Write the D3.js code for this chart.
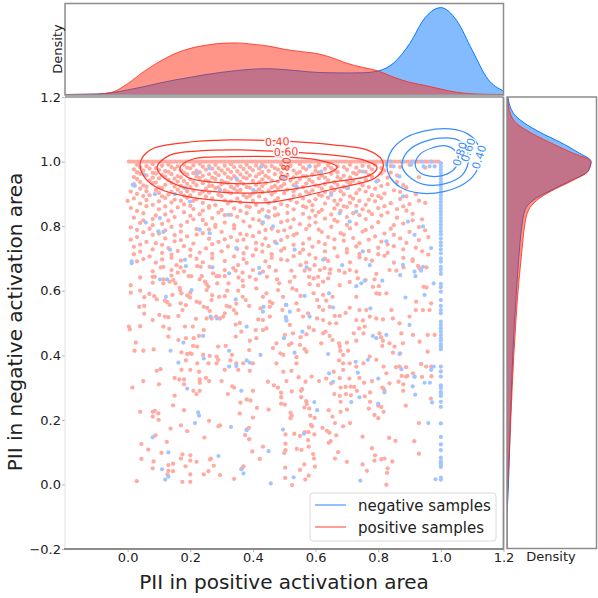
<!DOCTYPE html>
<html><head><meta charset="utf-8">
<script src="https://cdn.jsdelivr.net/npm/d3@7"></script>
<style>html,body{margin:0;padding:0;background:#fff;}svg{display:block;font-family:"DejaVu Sans",sans-serif;}</style>
</head><body><svg id="c" width="598" height="598"></svg>
<script>
// ---------------- DATA ----------------
const xTicks = [0, 0.2, 0.4, 0.6, 0.8, 1.0, 1.2];
const yTicks = [-0.2, 0, 0.2, 0.4, 0.6, 0.8, 1.0, 1.2];
const seriesNames = ["negative samples", "positive samples"];

// positive samples lying on y = 1.0
const positiveBandX = [0.004,0.012,0.021,0.03,0.038,0.047,0.055,0.064,0.072,0.081,0.09,0.098,0.107,0.115,0.124,0.133,0.141,0.15,0.158,0.167,0.176,0.184,0.193,0.201,0.21,0.219,0.227,0.236,0.244,0.253,0.262,0.27,0.279,0.287,0.296,0.305,0.313,0.322,0.33,0.339,0.348,0.356,0.365,0.373,0.382,0.391,0.399,0.408,0.416,0.425,0.434,0.442,0.451,0.459,0.468,0.477,0.485,0.494,0.502,0.511,0.52,0.528,0.537,0.545,0.554,0.563,0.571,0.58,0.588,0.597,0.606,0.614,0.623,0.631,0.64,0.649,0.657,0.666,0.674,0.683,0.692,0.70,0.709,0.717,0.726,0.735,0.743,0.752,0.76,0.769,0.778,0.786,0.795,0.803,0.812,0.821,0.829,0.838,0.846,0.855,0.864,0.872,0.881,0.889,0.898,0.907,0.915,0.924,0.932,0.941,0.95,0.958,0.967,0.975,0.984,0.993];

// positive samples, dense zone below y = 1.0
const positiveUpper = [
[0.03,0.99],[0.06,0.986],[0.08,0.992],[0.11,0.987],[0.13,0.991],[0.16,0.985],[0.18,0.99],[0.21,0.988],[0.23,0.993],[0.26,0.986],[0.28,0.99],[0.31,0.987],[0.33,0.992],[0.36,0.985],[0.38,0.99],[0.41,0.988],[0.43,0.991],[0.46,0.986],[0.49,0.99],[0.52,0.987],[0.55,0.992],[0.58,0.986],[0.61,0.99],[0.64,0.988],[0.67,0.985],[0.71,0.99],[0.75,0.987],[0.79,0.991],[0.84,0.986],[0.9,0.99],
[0.04,0.982],[0.09,0.98],[0.14,0.983],[0.19,0.981],[0.24,0.984],[0.29,0.98],[0.34,0.983],[0.39,0.981],[0.44,0.984],[0.47,0.98],[0.51,0.983],[0.56,0.981],[0.60,0.984],[0.65,0.98],[0.69,0.983],[0.73,0.981],[0.77,0.984],[0.81,0.98],[0.87,0.983],[0.95,0.981],
[0.02,0.976],[0.05,0.972],[0.07,0.978],[0.10,0.974],[0.12,0.97],[0.15,0.977],[0.17,0.973],[0.20,0.979],[0.22,0.971],[0.25,0.975],[0.27,0.978],[0.30,0.972],[0.32,0.976],[0.35,0.97],[0.37,0.977],[0.40,0.973],[0.42,0.978],[0.45,0.971],[0.48,0.975],[0.50,0.979],[0.53,0.972],[0.57,0.976],[0.60,0.971],[0.63,0.977],[0.66,0.973],[0.70,0.975],[0.74,0.97],[0.78,0.976],[0.82,0.972],
[0.03,0.967],[0.08,0.965],[0.13,0.968],[0.18,0.966],[0.23,0.967],[0.28,0.965],[0.33,0.968],[0.38,0.966],[0.43,0.967],[0.49,0.965],[0.55,0.968],[0.61,0.966],[0.67,0.967],[0.72,0.965],[0.76,0.968],[0.84,0.966],
[0.04,0.962],[0.06,0.957],[0.09,0.963],[0.11,0.958],[0.14,0.961],[0.16,0.955],[0.19,0.96],[0.21,0.964],[0.24,0.956],[0.26,0.961],[0.29,0.958],[0.31,0.963],[0.34,0.955],[0.36,0.96],[0.39,0.957],[0.42,0.962],[0.44,0.956],[0.47,0.961],[0.51,0.958],[0.54,0.963],[0.56,0.955],[0.59,0.96],[0.62,0.957],[0.65,0.962],[0.69,0.956],[0.73,0.961],[0.77,0.958],[0.81,0.963],[0.86,0.957],
[0.02,0.952],[0.08,0.95],[0.12,0.953],[0.17,0.951],[0.22,0.954],[0.27,0.95],[0.32,0.952],[0.37,0.951],[0.41,0.954],[0.45,0.95],[0.50,0.953],[0.53,0.951],[0.57,0.954],[0.63,0.95],[0.67,0.952],[0.71,0.951],[0.78,0.953],[0.83,0.95],[0.93,0.952],
[0.03,0.946],[0.07,0.941],[0.10,0.948],[0.13,0.943],[0.15,0.947],[0.18,0.94],[0.20,0.945],[0.23,0.949],[0.25,0.942],[0.28,0.946],[0.30,0.941],[0.33,0.947],[0.35,0.943],[0.38,0.948],[0.40,0.94],[0.43,0.945],[0.46,0.942],[0.49,0.947],[0.52,0.941],[0.55,0.946],[0.58,0.943],[0.61,0.948],[0.64,0.942],[0.68,0.946],[0.72,0.94],[0.76,0.945],[0.80,0.942],
[0.04,0.937],[0.09,0.935],[0.16,0.938],[0.21,0.936],[0.26,0.938],[0.31,0.935],[0.36,0.937],[0.42,0.936],[0.48,0.938],[0.54,0.935],[0.59,0.937],[0.66,0.936],[0.70,0.938],[0.74,0.935],[0.86,0.937],
[0.02,0.93],[0.05,0.926],[0.08,0.933],[0.12,0.928],[0.14,0.934],[0.17,0.925],[0.19,0.931],[0.22,0.927],[0.24,0.933],[0.27,0.925],[0.30,0.93],[0.32,0.934],[0.35,0.926],[0.37,0.931],[0.41,0.928],[0.44,0.933],[0.47,0.925],[0.50,0.93],[0.53,0.927],[0.57,0.932],[0.60,0.926],[0.63,0.931],[0.67,0.928],[0.71,0.933],[0.75,0.926],[0.83,0.93],[0.88,0.927],
[0.06,0.922],[0.10,0.92],[0.15,0.923],[0.20,0.921],[0.26,0.924],[0.29,0.92],[0.33,0.922],[0.38,0.921],[0.43,0.924],[0.46,0.92],[0.49,0.923],[0.56,0.921],[0.61,0.924],[0.65,0.92],[0.69,0.922],[0.77,0.921],[0.81,0.924],[0.89,0.92],
[0.04,0.916],[0.09,0.912],[0.11,0.918],[0.16,0.913],[0.18,0.919],[0.21,0.91],[0.25,0.915],[0.28,0.918],[0.31,0.911],[0.34,0.916],[0.36,0.912],[0.39,0.919],[0.42,0.914],[0.45,0.91],[0.48,0.917],[0.51,0.913],[0.54,0.918],[0.59,0.911],[0.62,0.916],[0.66,0.912],[0.70,0.918],[0.74,0.913],[0.79,0.916],[0.85,0.911],
[0.01,0.907],[0.06,0.908],[0.14,0.906],[0.19,0.908],[0.24,0.907],[0.32,0.906],[0.35,0.908],[0.41,0.907],[0.47,0.906],[0.53,0.908],[0.57,0.907],[0.63,0.906],[0.68,0.908],[0.76,0.907],[0.87,0.906],
[0.03,0.90],[0.07,0.896],[0.10,0.903],[0.13,0.898],[0.17,0.904],[0.20,0.895],[0.23,0.9],[0.26,0.904],[0.29,0.897],[0.33,0.902],[0.37,0.896],[0.40,0.901],[0.43,0.905],[0.46,0.898],[0.50,0.902],[0.55,0.896],[0.58,0.901],[0.61,0.897],[0.65,0.903],[0.69,0.898],[0.73,0.902],[0.78,0.896],[0.82,0.901],[0.92,0.899],
[0.05,0.893],[0.11,0.892],[0.18,0.894],[0.25,0.892],[0.30,0.893],[0.39,0.894],[0.42,0.892],[0.53,0.893],[0.62,0.894],[0.71,0.892],[0.80,0.893],[0.89,0.892],
[0.02,0.886],[0.06,0.881],[0.12,0.887],[0.15,0.882],[0.19,0.888],[0.22,0.883],[0.27,0.886],[0.31,0.88],[0.35,0.885],[0.38,0.889],[0.44,0.882],[0.48,0.887],[0.52,0.881],[0.56,0.886],[0.60,0.883],[0.64,0.888],[0.68,0.881],[0.72,0.885],[0.77,0.882],[0.81,0.887],[0.87,0.884],
[0.00,0.878],[0.10,0.877],[0.17,0.879],[0.21,0.878],[0.33,0.877],[0.40,0.879],[0.47,0.878],[0.58,0.877],[0.66,0.879],[0.74,0.878],[0.79,0.877],[0.93,0.879],
[0.04,0.87],[0.08,0.866],[0.14,0.873],[0.18,0.867],[0.24,0.872],[0.28,0.865],[0.32,0.87],[0.36,0.874],[0.41,0.866],[0.45,0.871],[0.49,0.868],[0.54,0.873],[0.59,0.865],[0.63,0.87],[0.67,0.867],[0.71,0.872],[0.76,0.866],[0.84,0.871],[0.90,0.868],[0.95,0.872],
[0.06,0.862],[0.12,0.861],[0.20,0.863],[0.26,0.862],[0.38,0.861],[0.51,0.863],[0.56,0.862],[0.69,0.861],[0.73,0.863],[0.82,0.862],[0.88,0.861],
[0.01,0.856],[0.10,0.852],[0.16,0.858],[0.21,0.853],[0.26,0.857],[0.30,0.85],[0.34,0.855],[0.39,0.859],[0.43,0.851],[0.47,0.856],[0.53,0.852],[0.57,0.858],[0.62,0.85],[0.66,0.855],[0.70,0.859],[0.75,0.852],[0.80,0.856],[0.86,0.853],
[0.03,0.847],[0.14,0.846],[0.24,0.848],[0.36,0.847],[0.45,0.846],[0.59,0.848],[0.68,0.847],[0.77,0.846],[0.89,0.848],
[0.05,0.84],[0.12,0.836],[0.18,0.843],[0.23,0.837],[0.29,0.842],[0.33,0.835],[0.38,0.84],[0.42,0.844],[0.48,0.836],[0.51,0.841],[0.56,0.838],[0.61,0.843],[0.65,0.836],[0.72,0.84],[0.78,0.837],[0.83,0.842],[0.91,0.838],
[0.09,0.833],[0.20,0.832],[0.31,0.834],[0.47,0.833],[0.60,0.832],[0.74,0.834],[0.81,0.833],
[0.02,0.826],[0.08,0.822],[0.15,0.828],[0.21,0.821],[0.27,0.825],[0.35,0.829],[0.40,0.822],[0.45,0.827],[0.53,0.821],[0.58,0.826],[0.63,0.823],[0.70,0.828],[0.76,0.822],[0.86,0.826],[0.94,0.821],
[0.05,0.818],[0.13,0.817],[0.24,0.819],[0.42,0.818],[0.51,0.817],[0.66,0.819],[0.91,0.818],
[0.04,0.81],[0.11,0.807],[0.19,0.813],[0.25,0.806],[0.31,0.811],[0.37,0.815],[0.43,0.808],[0.49,0.812],[0.55,0.806],[0.60,0.811],[0.67,0.814],[0.73,0.807],[0.80,0.812],[0.88,0.808],
[0.08,0.803],[0.17,0.802],[0.28,0.804],[0.34,0.803],[0.58,0.802],[0.70,0.804],[0.85,0.803],
[0.01,0.796],[0.07,0.792],[0.14,0.798],[0.22,0.791],[0.28,0.797],[0.34,0.793],[0.39,0.799],[0.46,0.792],[0.52,0.796],[0.57,0.791],[0.65,0.798],[0.71,0.793],[0.78,0.797],[0.84,0.792],[0.93,0.797],
[0.03,0.788],[0.12,0.787],[0.26,0.789],[0.44,0.788],[0.50,0.787],[0.61,0.789],[0.76,0.788],[0.95,0.787],
[0.05,0.781],[0.10,0.777],[0.17,0.783],[0.24,0.778],[0.30,0.782],[0.36,0.776],[0.42,0.781],[0.48,0.784],[0.54,0.777],[0.62,0.782],[0.68,0.778],[0.75,0.783],[0.82,0.777],[0.90,0.782],
[0.08,0.773],[0.15,0.772],[0.22,0.774],[0.38,0.773],[0.53,0.772],[0.69,0.774],[0.85,0.773],
[0.03,0.766],[0.12,0.762],[0.19,0.768],[0.26,0.761],[0.33,0.766],[0.40,0.769],[0.44,0.762],[0.51,0.767],[0.58,0.761],[0.64,0.766],[0.72,0.763],[0.79,0.768],[0.87,0.762],[0.96,0.766],
[0.01,0.758],[0.17,0.757],[0.31,0.759],[0.37,0.758],[0.49,0.757],[0.66,0.759],[0.77,0.758],[0.93,0.757],
[0.06,0.751],[0.09,0.747],[0.15,0.753],[0.21,0.746],[0.29,0.751],[0.35,0.755],[0.41,0.748],[0.47,0.752],[0.56,0.746],[0.61,0.751],[0.69,0.755],[0.74,0.747],[0.81,0.752],[0.89,0.748],
[0.04,0.743],[0.11,0.742],[0.27,0.744],[0.43,0.743],[0.53,0.742],[0.63,0.744],[0.83,0.743],
[0.02,0.736],[0.13,0.732],[0.18,0.738],[0.25,0.731],[0.32,0.737],[0.38,0.733],[0.45,0.738],[0.50,0.731],[0.59,0.736],[0.66,0.732],[0.73,0.737],[0.80,0.733],[0.85,0.738],[0.92,0.733],
[0.08,0.728],[0.20,0.727],[0.35,0.729],[0.41,0.728],[0.56,0.727],[0.70,0.729],[0.88,0.728],
[0.04,0.721],[0.11,0.717],[0.16,0.723],[0.23,0.718],[0.30,0.722],[0.37,0.716],[0.43,0.721],[0.49,0.724],[0.55,0.717],[0.63,0.722],[0.70,0.718],[0.77,0.723],[0.83,0.717],[0.94,0.722],
[0.02,0.713],[0.14,0.712],[0.27,0.714],[0.46,0.713],[0.58,0.712],[0.74,0.714],[0.80,0.713],[0.96,0.712],
[0.07,0.706],[0.14,0.702],[0.20,0.708],[0.27,0.701],[0.34,0.706],[0.40,0.709],[0.46,0.702],[0.53,0.707],[0.60,0.701],[0.67,0.706],[0.74,0.703],[0.82,0.708],[0.88,0.702],
[0.05,0.698],[0.11,0.697],[0.22,0.699],[0.37,0.698],[0.49,0.697],[0.63,0.699],[0.76,0.698],[0.91,0.697],
[0.03,0.691],[0.09,0.687],[0.17,0.693],[0.24,0.688],[0.31,0.692],[0.38,0.686],[0.44,0.691],[0.51,0.694],[0.57,0.687],[0.64,0.692],[0.71,0.688],[0.78,0.693],[0.85,0.687],[0.91,0.692]];

// positive samples, middle zone
const positiveMiddle = [
[0.01,0.617],[0.01,0.594],[0.004,0.489],[0.007,0.48],[0.026,0.439],[0.022,0.414],[0.05,0.414],[0.04,0.641],[0.04,0.60],[0.037,0.55],[0.053,0.58],[0.053,0.553],[0.053,0.529],[0.04,0.49],[0.069,0.59],[0.08,0.643],[0.087,0.643],[0.08,0.625],[0.08,0.509],[0.08,0.66],[0.085,0.583],[0.093,0.573],[0.083,0.418],[0.093,0.352],[0.105,0.357],[0.101,0.525],[0.106,0.672],[0.114,0.674],[0.114,0.635],[0.114,0.623],[0.119,0.569],[0.114,0.489],[0.119,0.52],[0.13,0.518],[0.126,0.565],[0.134,0.556],[0.13,0.458],[0.133,0.482],[0.134,0.628],[0.14,0.647],[0.146,0.633],[0.153,0.623],[0.143,0.587],[0.14,0.664],[0.156,0.679],[0.16,0.656],[0.166,0.609],[0.168,0.602],[0.172,0.592],[0.162,0.522],[0.162,0.447],[0.172,0.409],[0.169,0.561],[0.175,0.54],[0.186,0.555],[0.19,0.585],[0.199,0.579],[0.2,0.594],[0.18,0.66],[0.195,0.645],[0.203,0.645],[0.169,0.672],[0.183,0.489],[0.186,0.453],[0.19,0.404],[0.186,0.384],[0.199,0.406],[0.204,0.404],[0.209,0.429],[0.211,0.453],[0.208,0.489],[0.218,0.513],[0.22,0.566],[0.222,0.676],[0.233,0.674],[0.237,0.645],[0.23,0.635],[0.247,0.628],[0.252,0.62],[0.258,0.612],[0.252,0.602],[0.262,0.674],[0.273,0.654],[0.284,0.645],[0.292,0.645],[0.286,0.623],[0.27,0.586],[0.268,0.571],[0.292,0.581],[0.23,0.563],[0.243,0.55],[0.254,0.547],[0.262,0.537],[0.252,0.514],[0.243,0.478],[0.228,0.46],[0.222,0.427],[0.241,0.401],[0.262,0.398],[0.284,0.396],[0.289,0.386],[0.284,0.375],[0.258,0.375],[0.222,0.375],[0.228,0.349],[0.2,0.355],[0.172,0.355],[0.268,0.514],[0.282,0.52],[0.295,0.514],[0.305,0.52],[0.31,0.53],[0.316,0.553],[0.326,0.55],[0.339,0.54],[0.347,0.53],[0.347,0.56],[0.31,0.583],[0.318,0.6],[0.322,0.623],[0.31,0.645],[0.31,0.664],[0.337,0.67],[0.345,0.662],[0.353,0.679],[0.367,0.656],[0.354,0.641],[0.367,0.631],[0.369,0.614],[0.353,0.6],[0.367,0.581],[0.377,0.571],[0.388,0.553],[0.345,0.495],[0.358,0.5],[0.363,0.473],[0.345,0.458],[0.313,0.429],[0.289,0.427],[0.333,0.401],[0.328,0.384],[0.347,0.375],[0.369,0.375],[0.353,0.355],[0.31,0.355],[0.39,0.352],[0.4,0.375],[0.388,0.416],[0.39,0.445],[0.411,0.453],[0.409,0.478],[0.417,0.511],[0.432,0.509],[0.432,0.478],[0.443,0.483],[0.454,0.52],[0.454,0.55],[0.462,0.561],[0.454,0.566],[0.424,0.545],[0.432,0.581],[0.443,0.592],[0.411,0.607],[0.409,0.635],[0.39,0.643],[0.4,0.664],[0.432,0.659],[0.445,0.643],[0.452,0.674],[0.473,0.662],[0.477,0.635],[0.484,0.623],[0.48,0.602],[0.496,0.581],[0.505,0.556],[0.494,0.54],[0.507,0.509],[0.518,0.494],[0.502,0.463],[0.528,0.468],[0.523,0.437],[0.515,0.432],[0.475,0.437],[0.464,0.422],[0.488,0.406],[0.497,0.401],[0.475,0.375],[0.497,0.349],[0.523,0.352],[0.539,0.375],[0.539,0.394],[0.565,0.419],[0.571,0.411],[0.55,0.432],[0.552,0.456],[0.571,0.465],[0.579,0.486],[0.594,0.478],[0.56,0.52],[0.576,0.53],[0.545,0.54],[0.539,0.561],[0.552,0.584],[0.539,0.602],[0.526,0.607],[0.518,0.628],[0.533,0.643],[0.523,0.662],[0.552,0.679],[0.565,0.662],[0.581,0.666],[0.597,0.679],[0.614,0.664],[0.629,0.67],[0.647,0.666],[0.579,0.643],[0.594,0.638],[0.608,0.643],[0.581,0.62],[0.608,0.617],[0.624,0.628],[0.64,0.638],[0.645,0.654],[0.594,0.592],[0.624,0.587],[0.605,0.571],[0.611,0.55],[0.624,0.54],[0.634,0.569],[0.654,0.581],[0.645,0.55],[0.661,0.522],[0.677,0.522],[0.624,0.509],[0.605,0.514],[0.624,0.468],[0.632,0.473],[0.618,0.437],[0.645,0.46],[0.654,0.447],[0.675,0.437],[0.677,0.427],[0.679,0.414],[0.688,0.401],[0.675,0.384],[0.688,0.375],[0.709,0.375],[0.704,0.414],[0.7,0.439],[0.73,0.445],[0.722,0.468],[0.739,0.483],[0.753,0.468],[0.757,0.489],[0.751,0.508],[0.73,0.509],[0.74,0.54],[0.762,0.54],[0.773,0.52],[0.794,0.514],[0.815,0.511],[0.804,0.468],[0.809,0.456],[0.815,0.445],[0.813,0.429],[0.836,0.437],[0.852,0.427],[0.879,0.437],[0.87,0.406],[0.847,0.408],[0.857,0.363],[0.868,0.365],[0.889,0.334],[0.826,0.344],[0.817,0.365],[0.794,0.386],[0.773,0.396],[0.753,0.375],[0.73,0.365],[0.688,0.355],[0.658,0.349],[0.794,0.592],[0.804,0.59],[0.826,0.592],[0.842,0.54],[0.847,0.514],[0.868,0.499],[0.874,0.468],[0.911,0.463],[0.932,0.442],[0.958,0.463],[0.98,0.463],[0.964,0.54],[0.943,0.54],[0.92,0.54],[0.9,0.52],[0.921,0.566],[0.945,0.612],[0.954,0.61],[0.969,0.561],[0.932,0.669],[0.954,0.672],[0.927,0.677],[0.881,0.672],[0.858,0.662],[0.836,0.664],[0.794,0.652],[0.788,0.635],[0.802,0.614],[0.783,0.612],[0.76,0.633],[0.735,0.638],[0.73,0.659],[0.709,0.664],[0.693,0.656],[0.675,0.662],[0.677,0.617],[0.709,0.627],[0.73,0.581],[0.709,0.547],[0.696,0.531],[0.666,0.499],[0.645,0.499],[0.958,0.411],[0.969,0.365],[0.953,0.365],[0.937,0.373],[0.911,0.344],[0.889,0.363]];

// positive samples, lower zone
const positiveLower = [
[0.015,0.30],[0.05,0.32],[0.10,0.31],[0.15,0.33],[0.165,0.325],[0.18,0.325],[0.18,0.31],[0.23,0.325],[0.23,0.315],[0.25,0.33],[0.26,0.32],[0.30,0.32],[0.21,0.29],[0.23,0.29],[0.22,0.28],[0.15,0.275],[0.145,0.245],[0.18,0.23],[0.04,0.225],[0.08,0.225],[0.087,0.228],[0.098,0.22],[0.08,0.21],[0.099,0.20],[0.26,0.197],[0.17,0.183],[0.137,0.173],[0.19,0.165],[0.29,0.18],[0.295,0.183],[0.089,0.152],[0.245,0.145],[0.125,0.132],[0.044,0.125],[0.066,0.108],[0.108,0.098],[0.175,0.093],[0.20,0.09],[0.044,0.079],[0.083,0.071],[0.17,0.08],[0.20,0.074],[0.22,0.07],[0.266,0.08],[0.263,0.077],[0.275,0.058],[0.13,0.06],[0.145,0.064],[0.185,0.056],[0.08,0.05],[0.13,0.042],[0.145,0.041],[0.127,0.031],[0.20,0.031],[0.243,0.031],[0.258,0.041],[0.295,0.029],[0.029,0.01],[0.175,0.008],[0.20,0.008],[0.34,0.017],[0.32,0.28],[0.334,0.304],[0.34,0.30],[0.40,0.29],[0.38,0.263],[0.392,0.26],[0.36,0.253],[0.413,0.237],[0.45,0.232],[0.448,0.318],[0.467,0.307],[0.48,0.30],[0.507,0.32],[0.546,0.332],[0.587,0.334],[0.568,0.318],[0.557,0.295],[0.554,0.29],[0.524,0.288],[0.49,0.284],[0.49,0.27],[0.49,0.25],[0.502,0.247],[0.554,0.27],[0.57,0.258],[0.572,0.249],[0.58,0.235],[0.564,0.238],[0.52,0.222],[0.524,0.213],[0.52,0.205],[0.583,0.213],[0.597,0.206],[0.585,0.184],[0.589,0.18],[0.40,0.207],[0.358,0.22],[0.387,0.175],[0.38,0.17],[0.375,0.153],[0.388,0.14],[0.504,0.155],[0.532,0.157],[0.55,0.15],[0.565,0.162],[0.577,0.162],[0.596,0.155],[0.576,0.137],[0.504,0.126],[0.432,0.117],[0.398,0.102],[0.422,0.079],[0.50,0.097],[0.504,0.106],[0.54,0.11],[0.555,0.107],[0.578,0.117],[0.592,0.094],[0.595,0.08],[0.37,0.056],[0.365,0.05],[0.503,0.052],[0.564,0.062],[0.598,0.055],[0.55,0.045],[0.578,0.027],[0.567,0.015],[0.503,0.02],[0.525,-0.002],[0.642,0.23],[0.622,0.175],[0.636,0.166],[0.644,0.16],[0.654,0.21],[0.662,0.19],[0.666,0.152],[0.648,0.134],[0.642,0.129],[0.672,0.10],[0.662,0.08],[0.70,0.07],[0.688,0.18],[0.71,0.19],[0.68,0.225],[0.70,0.232],[0.68,0.256],[0.697,0.28],[0.713,0.276],[0.66,0.28],[0.677,0.274],[0.68,0.30],[0.696,0.302],[0.712,0.303],[0.723,0.302],[0.65,0.313],[0.611,0.32],[0.634,0.328],[0.677,0.329],[0.708,0.328],[0.74,0.33],[0.755,0.315],[0.78,0.32],[0.732,0.29],[0.774,0.285],[0.757,0.273],[0.77,0.235],[0.774,0.256],[0.80,0.244],[0.81,0.24],[0.817,0.225],[0.788,0.215],[0.80,0.205],[0.817,0.297],[0.82,0.29],[0.813,0.30],[0.836,0.313],[0.865,0.318],[0.88,0.31],[0.88,0.29],[0.875,0.336],[0.893,0.336],[0.94,0.333],[0.97,0.335],[0.968,0.266],[0.888,0.244],[0.93,0.19],[0.915,0.134],[0.93,0.095],[0.855,0.135],[0.835,0.144],[0.78,0.112],[0.79,0.09],[0.788,0.074],[0.81,0.078],[0.82,0.08],[0.845,0.071],[0.75,0.062],[0.75,0.148],[0.764,0.042],[0.83,0.05],[0.828,0.036],[0.826,-0.001]];

// negative samples lying on x = 1.0 and on y = 1.0
const negativeLineY = [0.995,0.985,0.975,0.965,0.955,0.945,0.935,0.925,0.915,0.905,0.895,0.885,0.875,0.865,0.855,0.845,0.835,0.825,0.815,0.805,0.795,0.785,0.775,0.762,0.75,0.74,0.728,0.716,0.70,0.69,0.674,0.664,0.652,0.621,0.611,0.597,0.571,0.553,0.54,0.53,0.504,0.494,0.484,0.474,0.463,0.453,0.446,0.435,0.427,0.419,0.365,0.35,0.334,0.307,0.299,0.287,0.281,0.274,0.256,0.24,0.189,0.147,0.124,0.106,0.083,0.072,0.065,0.06,0.054,0.021,0.015];
const negativeBandX = [0.84,0.88,0.91,0.94,0.97];

// negative samples, scattered
const negativeScatter = [
[0.016,0.928],[0.023,0.925],[0.053,0.959],[0.087,0.899],[0.058,0.811],[0.103,0.825],[0.098,0.784],[0.114,0.782],[0.151,0.899],[0.186,0.918],[0.199,0.876],[0.23,0.789],[0.222,0.964],[0.262,0.979],[0.295,0.912],[0.321,0.835],[0.347,0.948],[0.401,0.912],[0.432,0.812],[0.443,0.83],[0.464,0.799],[0.427,0.985],[0.496,0.95],[0.539,0.923],[0.581,0.985],[0.618,0.969],[0.65,0.897],[0.677,0.84],[0.704,0.918],[0.709,0.814],[0.73,0.845],[0.751,0.969],[0.794,0.938],[0.826,0.99],[0.849,0.985],[0.868,0.954],[0.879,0.892],[0.895,0.814],[0.905,0.99],[0.916,0.773],[0.945,0.985],[0.964,0.985],[0.98,0.985],[0.943,0.799],[0.969,0.732],[0.826,0.753],[0.751,0.722],[0.624,0.696],[0.533,0.727],[0.475,0.747],[0.347,0.732],[0.262,0.778],[0.135,0.727],[0.183,0.696],[0.013,0.691],
[0.013,0.685],[0.103,0.635],[0.126,0.635],[0.204,0.602],[0.122,0.581],[0.186,0.676],[0.271,0.672],[0.324,0.654],[0.345,0.573],[0.265,0.52],[0.286,0.514],[0.38,0.489],[0.241,0.46],[0.178,0.439],[0.137,0.414],[0.162,0.377],[0.243,0.39],[0.324,0.414],[0.324,0.365],[0.347,0.367],[0.38,0.384],[0.39,0.377],[0.424,0.401],[0.42,0.671],[0.422,0.654],[0.434,0.55],[0.432,0.535],[0.507,0.556],[0.518,0.535],[0.505,0.518],[0.507,0.507],[0.499,0.453],[0.533,0.408],[0.571,0.672],[0.581,0.52],[0.558,0.473],[0.565,0.584],[0.643,0.592],[0.656,0.548],[0.64,0.404],[0.643,0.344],[0.685,0.679],[0.728,0.38],[0.73,0.614],[0.735,0.346],[0.746,0.623],[0.757,0.631],[0.767,0.386],[0.783,0.46],[0.794,0.453],[0.773,0.679],[0.775,0.545],[0.813,0.631],[0.826,0.463],[0.868,0.404],[0.874,0.357],[0.87,0.648],[0.887,0.579],[0.879,0.68],[0.916,0.659],[0.919,0.645],[0.937,0.662],[0.943,0.674],[0.977,0.623],[0.948,0.587],[0.9,0.494],[0.969,0.355],[0.977,0.365],[0.916,0.334],
[0.19,0.297],[0.363,0.29],[0.225,0.223],[0.228,0.213],[0.215,0.19],[0.33,0.178],[0.38,0.168],[0.496,0.17],[0.563,0.157],[0.596,0.255],[0.605,0.23],[0.656,0.318],[0.714,0.255],[0.74,0.27],[0.80,0.328],[0.80,0.25],[0.82,0.285],[0.916,0.333],[0.91,0.304],[0.918,0.278],[0.948,0.315],[0.965,0.315],[0.972,0.254],[0.96,0.19],[0.08,0.146],[0.13,0.099],[0.29,0.088],[0.11,0.047],[0.13,0.024],[0.12,0.015],[0.363,0.047],[0.37,0.034],[0.45,0.103],[0.53,0.022],[0.457,0.003],[0.743,0.012],[0.983,0.016]];

// KDE contours (x, y) for levels 0.40 / 0.60 / 0.80
const contourLevels = ["0.40", "0.60", "0.80"];
const positiveContours = [
 [[0.040,0.995],[0.072,1.036],[0.177,1.058],[0.327,1.067],[0.477,1.064],[0.656,1.052],[0.764,1.036],[0.812,1.005],[0.815,0.980],[0.790,0.949],[0.656,0.915],[0.519,0.884],[0.429,0.872],[0.311,0.878],[0.199,0.890],[0.103,0.915],[0.056,0.949]],
 [[0.094,0.983],[0.135,1.020],[0.231,1.033],[0.359,1.036],[0.503,1.030],[0.656,1.020],[0.752,1.005],[0.796,0.983],[0.774,0.958],[0.656,0.937],[0.509,0.912],[0.413,0.903],[0.285,0.906],[0.177,0.921],[0.113,0.952]],
 [[0.167,0.980],[0.209,1.008],[0.337,1.015],[0.477,1.015],[0.605,1.005],[0.669,0.983],[0.646,0.967],[0.528,0.949],[0.423,0.933],[0.273,0.936],[0.190,0.952]]];
const negativeContours = [
 [[0.828,0.983],[0.844,1.036],[0.886,1.073],[0.950,1.095],[1.029,1.101],[1.087,1.085],[1.119,1.051],[1.125,1.005],[1.112,0.967],[1.077,0.933],[1.013,0.908],[0.934,0.902],[0.870,0.921],[0.838,0.952]],
 [[0.876,0.986],[0.892,1.029],[0.934,1.057],[0.997,1.073],[1.055,1.067],[1.084,1.036],[1.087,0.995],[1.068,0.958],[1.020,0.933],[0.959,0.927],[0.908,0.946]],
 [[0.918,0.992],[0.934,1.023],[0.972,1.042],[1.020,1.048],[1.049,1.029],[1.055,0.998],[1.039,0.973],[0.997,0.955],[0.950,0.958],[0.925,0.973]]];
const positiveLabelAt = [[0.478,1.061],[0.506,1.030],[0.503,0.976]];
const negativeLabelAt = [[1.122,1.014],[1.087,1.036],[1.061,1.023]];

// marginal densities (relative)
const topGridX = [-0.2,-0.1,-0.05,0.0,0.05,0.1,0.15,0.2,0.25,0.3,0.35,0.4,0.45,0.5,0.55,0.6,0.65,0.7,0.75,0.8,0.85,0.9,0.95,1.0,1.05,1.1,1.15,1.2];
const topNegDensity = [0,0.005,0.02,0.05,0.085,0.125,0.16,0.19,0.22,0.245,0.265,0.28,0.285,0.275,0.26,0.245,0.24,0.238,0.24,0.26,0.35,0.56,0.85,0.96,0.82,0.49,0.17,0.04];
const topPosDensity = [0,0.004,0.025,0.12,0.25,0.36,0.45,0.51,0.545,0.565,0.57,0.555,0.535,0.50,0.475,0.455,0.41,0.345,0.30,0.26,0.19,0.135,0.10,0.06,0.025,0.008,0.002,0];
const rightGridY = [1.2,1.15,1.12,1.09,1.06,1.03,1.0,0.97,0.94,0.91,0.88,0.85,0.8,0.75,0.7,0.6,0.5,0.4,0.3,0.2,0.1,0.0,-0.05,-0.1,-0.2];
const rightNegDensity = [0.01,0.07,0.19,0.37,0.59,0.78,0.935,0.90,0.70,0.48,0.29,0.2,0.165,0.145,0.13,0.105,0.082,0.064,0.05,0.038,0.028,0.016,0.008,0,0];
const rightPosDensity = [0.005,0.035,0.10,0.26,0.47,0.70,0.93,0.90,0.72,0.50,0.33,0.24,0.195,0.175,0.157,0.123,0.098,0.076,0.058,0.042,0.026,0.008,0.003,0,0];

// ---------------- DRAWING ----------------
const RED = "#ff2a14", BLUE = "#0a78ff";
const svg = d3.select("#c");
const x = d3.scaleLinear([-0.2, 1.2], [65, 503.5]);
const y = d3.scaleLinear([-0.2, 1.2], [549, 97]);
const topD = d3.scaleLinear([0, 1], [94.5, 4]);
const rightD = d3.scaleLinear([0, 1], [507, 597]);

const defs = svg.append("defs");
defs.append("clipPath").attr("id","mainClip").append("rect").attr("x",65).attr("y",97).attr("width",438.5).attr("height",452);
defs.append("clipPath").attr("id","topClip").append("rect").attr("x",65).attr("y",3.5).attr("width",438.5).attr("height",91.5);
defs.append("clipPath").attr("id","rightClip").append("rect").attr("x",507).attr("y",97).attr("width",90).attr("height",452);

// scatter
const sc = svg.append("g").attr("clip-path","url(#mainClip)");
const posAll = positiveBandX.map(v => [v, 1.0]).concat(positiveUpper, positiveMiddle, positiveLower);
const negAll = negativeLineY.map(v => [1.0, v]).concat(negativeBandX.map(v => [v, 1.0]), negativeScatter);
sc.append("g").selectAll("circle").data(posAll).join("circle")
  .attr("cx", d => x(d[0])).attr("cy", d => y(d[1])).attr("r", 2.15).attr("fill", "#ffaba2");
sc.append("g").selectAll("circle").data(negAll).join("circle")
  .attr("cx", d => x(d[0])).attr("cy", d => y(d[1])).attr("r", 2.1).attr("fill", "#a2c5ff");

// contour labels mask
const lblAngles = {pos: [-3, -2, -80], neg: [-72, -72, -72]};
const mask = defs.append("mask").attr("id","lblMask").attr("maskUnits","userSpaceOnUse")
  .attr("x",0).attr("y",0).attr("width",598).attr("height",598);
mask.append("rect").attr("width",598).attr("height",598).attr("fill","white");
function labelTransform(p, a){ return `translate(${x(p[0])},${y(p[1])}) rotate(${a})`; }
positiveLabelAt.forEach((p,i) => mask.append("text").attr("transform", labelTransform(p, lblAngles.pos[i]))
  .attr("text-anchor","middle").attr("dy","0.35em").attr("font-size",11).attr("fill","black").attr("stroke","black").attr("stroke-width",3).text(contourLevels[i]));
negativeLabelAt.forEach((p,i) => mask.append("text").attr("transform", labelTransform(p, lblAngles.neg[i]))
  .attr("text-anchor","middle").attr("dy","0.35em").attr("font-size",11).attr("fill","black").attr("stroke","black").attr("stroke-width",3).text(contourLevels[i]));

const cline = d3.line().x(d => x(d[0])).y(d => y(d[1])).curve(d3.curveCatmullRomClosed.alpha(0.5));
const cg = svg.append("g").attr("mask","url(#lblMask)").attr("fill","none").attr("stroke-width",1.25);
cg.selectAll("path.pc").data(positiveContours).join("path").attr("class","pc").attr("d", cline).attr("stroke", "#ff3a2a");
cg.selectAll("path.nc").data(negativeContours).join("path").attr("class","nc").attr("d", cline).attr("stroke", "#3a8eff");
positiveLabelAt.forEach((p,i) => svg.append("text").attr("transform", labelTransform(p, lblAngles.pos[i]))
  .attr("text-anchor","middle").attr("dy","0.35em").attr("font-size",11).attr("fill","#ff3a2a").text(contourLevels[i]));
negativeLabelAt.forEach((p,i) => svg.append("text").attr("transform", labelTransform(p, lblAngles.neg[i]))
  .attr("text-anchor","middle").attr("dy","0.35em").attr("font-size",11).attr("fill","#3a8eff").text(contourLevels[i]));

// axes
const fmt = d3.format(".1f");
const ya = svg.append("g").attr("transform","translate(65,0)")
  .call(d3.axisLeft(y).tickValues(yTicks).tickFormat(fmt).tickSize(3).tickPadding(1));
const xa = svg.append("g").attr("transform","translate(0,549)")
  .call(d3.axisBottom(x).tickValues(xTicks).tickFormat(fmt).tickSize(3).tickPadding(1));
[ya, xa].forEach(a => {
  a.select(".domain").remove();
  a.selectAll(".tick line").attr("stroke","#b5b5b5");
  a.selectAll(".tick text").attr("font-size",13).attr("fill","#222").attr("font-family","DejaVu Sans");
});

// frames
svg.append("line").attr("x1",65).attr("x2",65).attr("y1",97).attr("y2",549).attr("stroke","#e2e2e2").attr("stroke-width",1);
svg.append("line").attr("x1",65).attr("x2",503.5).attr("y1",97).attr("y2",97).attr("stroke","#8c8c8c").attr("stroke-width",1.5);
svg.append("line").attr("x1",503.5).attr("x2",503.5).attr("y1",97).attr("y2",549).attr("stroke","#8c8c8c").attr("stroke-width",1.8);
svg.append("line").attr("x1",64).attr("x2",504).attr("y1",549).attr("y2",549).attr("stroke","#8c8c8c").attr("stroke-width",2);

// legend
const lg = svg.append("g");
lg.append("rect").attr("x",310).attr("y",493).attr("width",186).attr("height",48).attr("rx",3)
  .attr("fill","white").attr("fill-opacity",0.85).attr("stroke","#dadada").attr("stroke-width",1);
const legendColors = [BLUE, RED];
seriesNames.forEach((n,i) => {
  const yy = 505 + i*22;
  lg.append("line").attr("x1",315).attr("x2",346).attr("y1",yy).attr("y2",yy).attr("stroke",legendColors[i]).attr("stroke-opacity",0.45).attr("stroke-width",2);
  lg.append("text").attr("x",358).attr("y",yy+5.5).attr("font-size",15).attr("fill","#222").text(n);
});

// top marginal
const tg = svg.append("g").attr("clip-path","url(#topClip)");
const topArea = d3.area().x(d => x(d[0])).y0(topD(0)).y1(d => topD(d[1])).curve(d3.curveMonotoneX);
const topLine = d3.line().x(d => x(d[0])).y(d => topD(d[1])).curve(d3.curveMonotoneX);
const topNeg = topGridX.map((v,i) => [v, topNegDensity[i]]);
const topPos = topGridX.map((v,i) => [v, topPosDensity[i]]);
tg.append("path").attr("d", topArea(topNeg)).attr("fill", BLUE).attr("fill-opacity",0.5);
tg.append("path").attr("d", topLine(topNeg)).attr("fill","none").attr("stroke", BLUE).attr("stroke-width",1);
tg.append("path").attr("d", topArea(topPos)).attr("fill", RED).attr("fill-opacity",0.5);
tg.append("path").attr("d", topLine(topPos)).attr("fill","none").attr("stroke", RED).attr("stroke-opacity",0.8).attr("stroke-width",1);
svg.append("rect").attr("x",65).attr("y",3.5).attr("width",438.5).attr("height",91.5).attr("fill","none").attr("stroke","#8c8c8c").attr("stroke-width",1.5);
svg.append("text").attr("transform","translate(62,49) rotate(-90)").attr("text-anchor","middle").attr("font-size",13).attr("fill","#222").text("Density");

// right marginal
const rg = svg.append("g").attr("clip-path","url(#rightClip)");
const rArea = d3.area().y(d => y(d[0])).x0(rightD(0)).x1(d => rightD(d[1])).curve(d3.curveMonotoneY);
const rLine = d3.line().y(d => y(d[0])).x(d => rightD(d[1])).curve(d3.curveMonotoneY);
const rNeg = rightGridY.map((v,i) => [v, rightNegDensity[i]]);
const rPos = rightGridY.map((v,i) => [v, rightPosDensity[i]]);
rg.append("path").attr("d", rArea(rNeg)).attr("fill", BLUE).attr("fill-opacity",0.5);
rg.append("path").attr("d", rLine(rNeg)).attr("fill","none").attr("stroke", BLUE).attr("stroke-width",1);
rg.append("path").attr("d", rArea(rPos)).attr("fill", RED).attr("fill-opacity",0.5);
rg.append("path").attr("d", rLine(rPos)).attr("fill","none").attr("stroke", RED).attr("stroke-opacity",0.8).attr("stroke-width",1);
svg.append("rect").attr("x",507).attr("y",97).attr("width",89.5).attr("height",451.5).attr("fill","none").attr("stroke","#8c8c8c").attr("stroke-width",1.5);
svg.append("text").attr("x",551).attr("y",561).attr("text-anchor","middle").attr("font-size",13).attr("fill","#222").text("Density");

// axis titles
svg.append("text").attr("transform","translate(22,322) rotate(-90)").attr("text-anchor","middle").attr("font-size",20).attr("fill","#222").text("PII in negative activation area");
svg.append("text").attr("x",284).attr("y",589).attr("text-anchor","middle").attr("font-size",20).attr("fill","#222").text("PII in positive activation area");
</script></body></html>
